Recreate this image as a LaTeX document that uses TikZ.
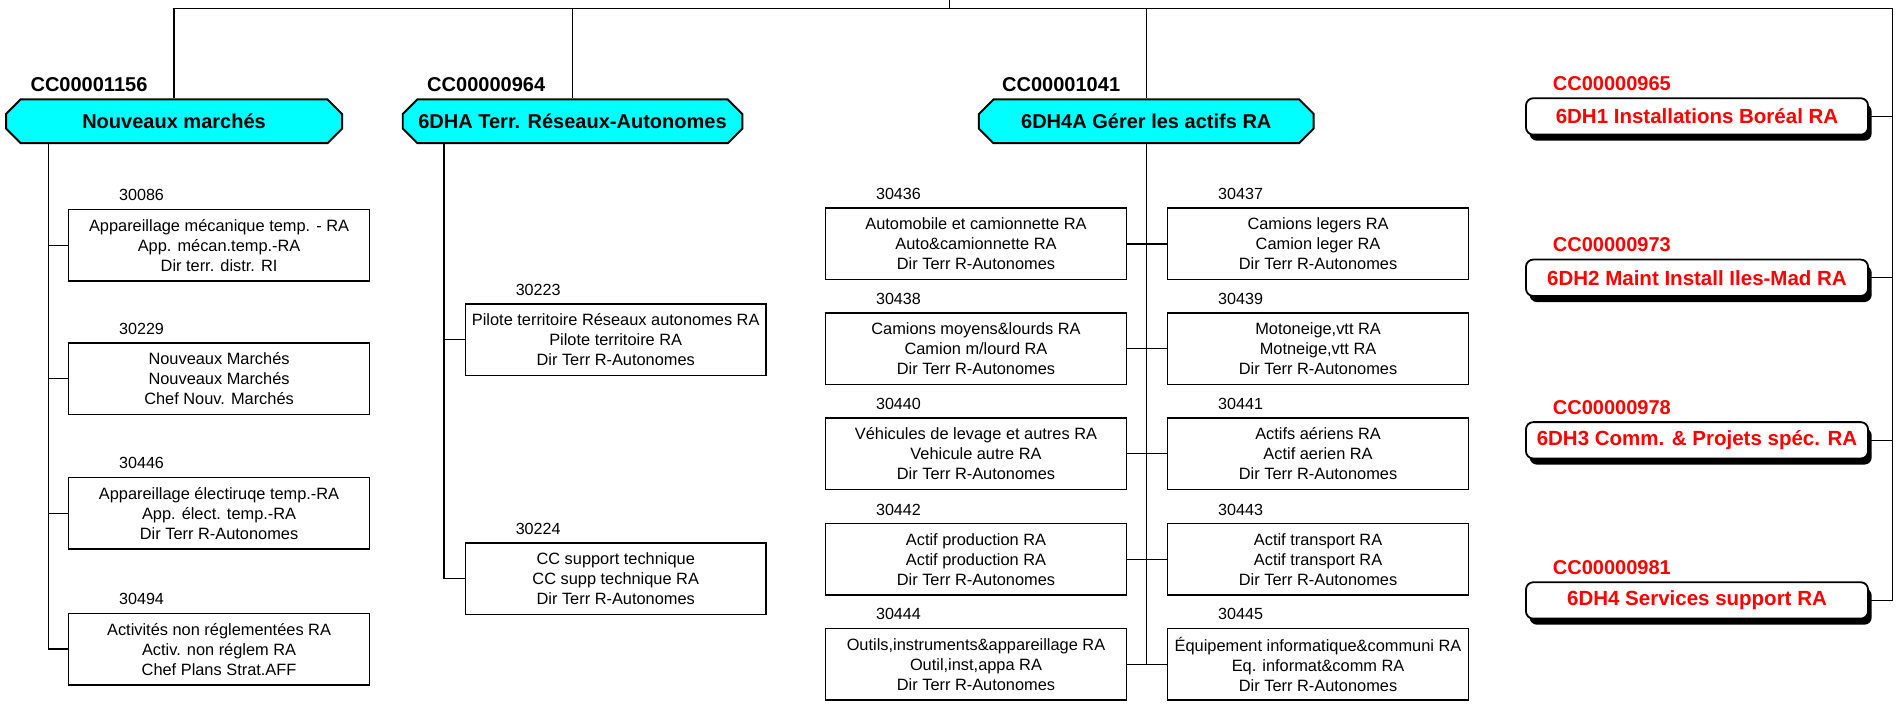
\documentclass[tikz,border=0pt]{standalone}
\usepackage{fontspec}
\setmainfont{Liberation Sans}
\usetikzlibrary{shapes.misc,shadows}
\definecolor{hcyan}{RGB}{0,255,255}
\definecolor{hred}{RGB}{255,0,0}
\tikzset{
 conn/.style={line width=1pt, draw=black},
 detailbox/.style={draw, line width=1.2pt, minimum width=248pt, minimum height=59pt, inner sep=0pt, align=center, anchor=north west, font=\fontsize{13.5}{16.5}\selectfont},
 codelabel/.style={anchor=west, inner sep=0pt, font=\fontsize{13.3}{14}\selectfont},
 headbox/.style={chamfered rectangle, chamfered rectangle xsep=6pt, chamfered rectangle ysep=6pt, draw, line width=1.6pt, fill=hcyan, minimum height=36pt, inner sep=0pt, font=\fontsize{16.5}{18}\selectfont\bfseries},
 headlabel/.style={anchor=west, inner sep=0pt, font=\fontsize{16.5}{18}\selectfont\bfseries},
 redbox/.style={draw, rounded corners=6pt, line width=1.5pt, fill=white, minimum width=282pt, minimum height=30pt, inner sep=0pt, text=hred, font=\fontsize{16.9}{18}\selectfont\bfseries, drop shadow={shadow xshift=3pt, shadow yshift=-5pt, fill=black, opacity=1}},
 redlabel/.style={headlabel, text=hred},
}
\newcommand{\dbox}[7]{%
 \node[detailbox] (#1) at (#2,#3) {#5\\#6\\#7};
 \node[codelabel] (#1lab) at ([xshift=42pt,yshift=11pt]#1.north west) {#4};
}
\begin{document}
\begin{tikzpicture}[x=1pt,y=-1pt]
\useasboundingbox (0,0) rectangle (1568,580.4);
% header boxes
\node[headbox, minimum width=277pt] (h1) at (143.5,100) {Nouveaux marchés};
\node[headbox, minimum width=280pt] (h2) at (472,100) {6DHA Terr. Réseaux-Autonomes};
\node[headbox, minimum width=276pt] (h3) at (945,100) {6DH4A Gérer les actifs RA};
\node[headlabel] (h1lab) at (25,70) {CC00001156};
\node[headlabel] (h2lab) at (352,70) {CC00000964};
\node[headlabel] (h3lab) at (826,70) {CC00001041};
% red boxes
\node[redbox] (r1) at (1399,96) {6DH1 Installations Boréal RA};
\node[redbox] (r2) at (1399,229) {6DH2 Maint Install Iles-Mad RA};
\node[redbox] (r3) at (1399,363) {6DH3 Comm. \& Projets spéc. RA};
\node[redbox] (r4) at (1399,495) {6DH4 Services support RA};
\node[redlabel] (r1lab) at (1280,69) {CC00000965};
\node[redlabel] (r2lab) at (1280,202) {CC00000973};
\node[redlabel] (r3lab) at (1280,336) {CC00000978};
\node[redlabel] (r4lab) at (1280,468) {CC00000981};
% coordinates
\coordinate (root) at (783,0);
\coordinate (busR) at (1560,7);
\coordinate (c1) at (40,0);
\coordinate (c2) at (366,0);
% column 1
\dbox{a1}{56}{172}{30086}{Appareillage mécanique temp. - RA}{App. mécan.temp.-RA}{Dir terr. distr. RI}
\dbox{a2}{56}{282}{30229}{Nouveaux Marchés}{Nouveaux Marchés}{Chef Nouv. Marchés}
\dbox{a3}{56}{393}{30446}{Appareillage électiruqe temp.-RA}{App. élect. temp.-RA}{Dir Terr R-Autonomes}
\dbox{a4}{56}{505}{30494}{Activités non réglementées RA}{Activ. non réglem RA}{Chef Plans Strat.AFF}
% column 2
\dbox{b1}{383}{250}{30223}{Pilote territoire Réseaux autonomes RA}{Pilote territoire RA}{Dir Terr R-Autonomes}
\dbox{b2}{383}{447}{30224}{CC support technique}{CC supp technique RA}{Dir Terr R-Autonomes}
% column 3
\dbox{l1}{680}{171}{30436}{Automobile et camionnette RA}{Auto\&camionnette RA}{Dir Terr R-Autonomes}
\dbox{l2}{680}{257.5}{30438}{Camions moyens\&lourds RA}{Camion m/lourd RA}{Dir Terr R-Autonomes}
\dbox{l3}{680}{344}{30440}{Véhicules de levage et autres RA}{Vehicule autre RA}{Dir Terr R-Autonomes}
\dbox{l4}{680}{431}{30442}{Actif production RA}{Actif production RA}{Dir Terr R-Autonomes}
\dbox{l5}{680}{517.5}{30444}{Outils,instruments\&appareillage RA}{Outil,inst,appa RA}{Dir Terr R-Autonomes}
\dbox{m1}{962}{171}{30437}{Camions legers RA}{Camion leger RA}{Dir Terr R-Autonomes}
\dbox{m2}{962}{257.5}{30439}{Motoneige,vtt RA}{Motneige,vtt RA}{Dir Terr R-Autonomes}
\dbox{m3}{962}{344}{30441}{Actifs aériens RA}{Actif aerien RA}{Dir Terr R-Autonomes}
\dbox{m4}{962}{431}{30443}{Actif transport RA}{Actif transport RA}{Dir Terr R-Autonomes}
\dbox{m5}{962}{517.5}{30445}{Équipement informatique\&communi RA}{Eq. informat\&comm RA}{Dir Terr R-Autonomes}
% connectors: top bus
\draw[conn] (root) -- (root |- busR);
\draw[conn] (h1.north) -- (h1.north |- busR) -- (busR);
\draw[conn] (h2.north) -- (h2.north |- busR);
\draw[conn] (h3.north) -- (h3.north |- busR);
\draw[conn] (busR) |- (r4.east);
\draw[conn] (r1.east) -- (r1.east -| busR);
\draw[conn] (r2.east) -- (r2.east -| busR);
\draw[conn] (r3.east) -- (r3.east -| busR);
% column 1
\draw[conn] (h1.south -| c1) |- (a4.west);
\foreach \n in {a1,a2,a3} \draw[conn] (\n.west) -- (\n.west -| c1);
% column 2
\draw[conn] (h2.south -| c2) |- (b2.west);
\draw[conn] (b1.west) -- (b1.west -| c2);
% column 3
\draw[conn] (h3.south) -- (h3.south |- l5.east);
\foreach \i in {1,...,5} \draw[conn] (l\i.east) -- (m\i.west);
\end{tikzpicture}
\end{document}
